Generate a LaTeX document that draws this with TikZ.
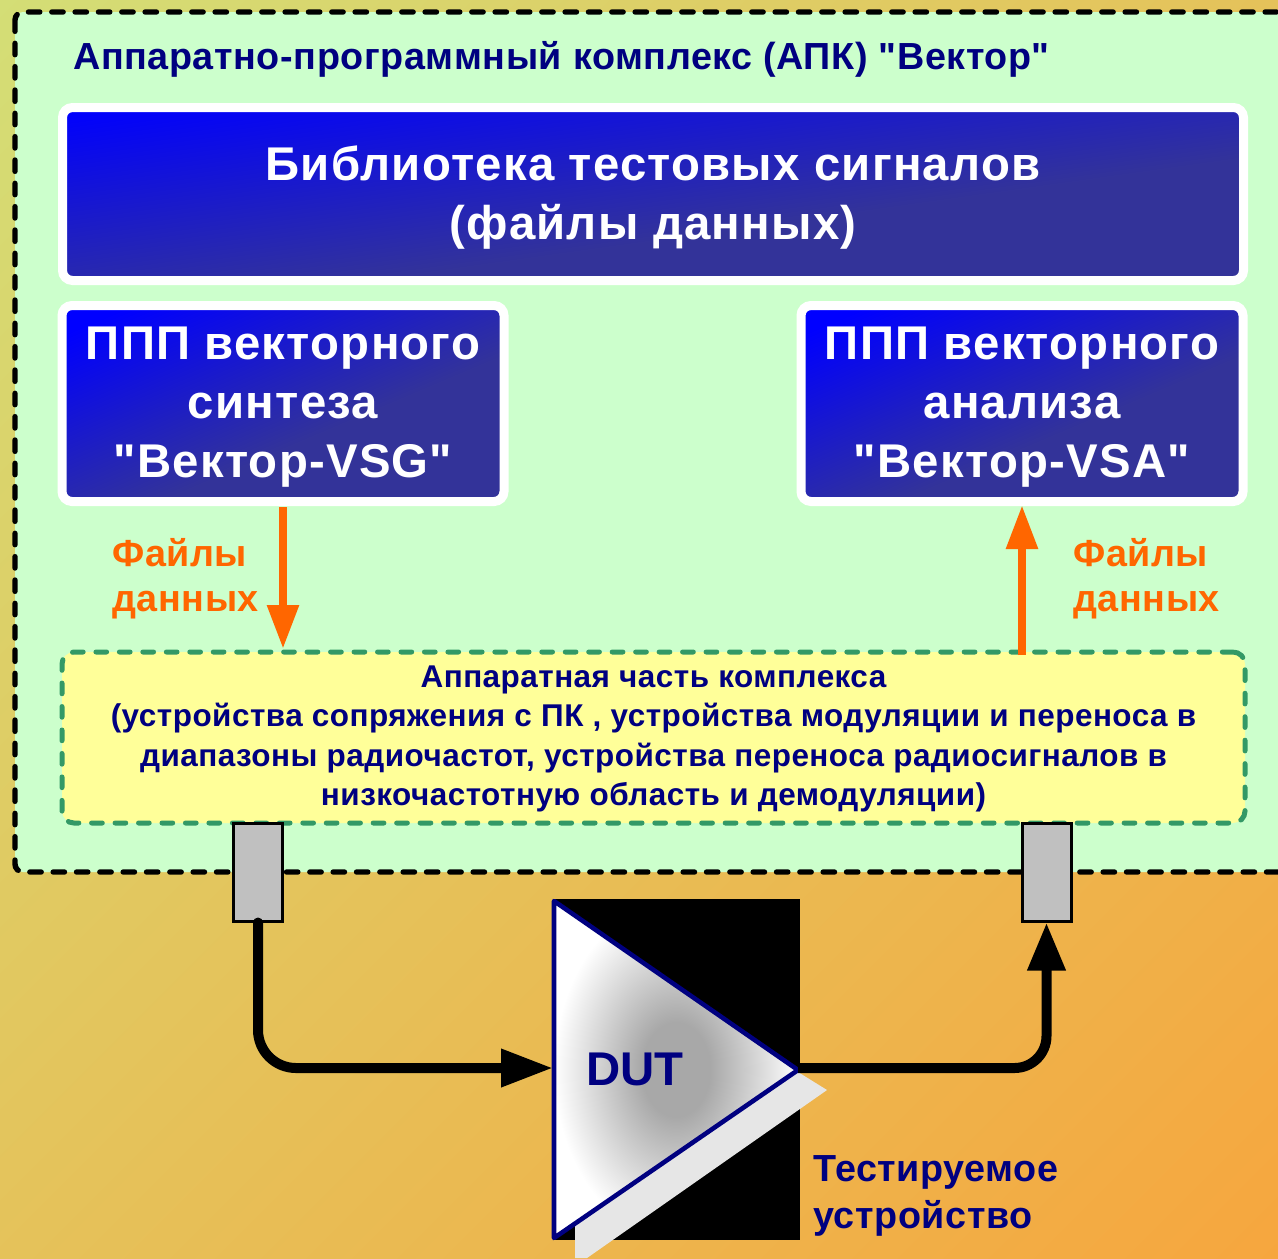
\documentclass[tikz,border=0pt]{standalone}
\usepackage{fontspec}
\setmainfont{Liberation Sans}[BoldFont={Liberation Sans Bold}]
\usetikzlibrary{arrows.meta}
\definecolor{navytxt}{RGB}{0,0,128}
\definecolor{panelgreen}{RGB}{204,255,204}
\definecolor{panelyellow}{RGB}{255,255,153}
\definecolor{dashgreen}{RGB}{51,153,102}
\definecolor{orangeline}{RGB}{255,102,0}
\definecolor{boxtop}{RGB}{0,0,255}
\definecolor{boxbot}{RGB}{51,51,153}
\definecolor{bgstart}{RGB}{208,228,124}
\definecolor{bgend}{RGB}{250,160,56}
\definecolor{portgray}{RGB}{192,192,192}
\definecolor{shadowgray}{RGB}{230,230,230}
\definecolor{dutcore}{RGB}{168,168,168}
\def\px{0.75pt}
\pgfdeclareradialshading{dutshade}{\pgfpointorigin}{color(0bp)=(dutcore); color(7bp)=(dutcore); color(25bp)=(white); color(50bp)=(white)}
\pgfdeclareverticalshading{boxshade}{100bp}{color(0bp)=(boxbot); color(42bp)=(boxbot); color(78bp)=(boxtop); color(100bp)=(boxtop)}
\newfontfamily\bigf[LetterSpace=2.6]{Liberation Sans Bold}
\newfontfamily\midf[LetterSpace=1.5]{Liberation Sans Bold}
\newfontfamily\smallf[LetterSpace=1.5]{Liberation Sans Bold}
\tikzset{
  bluebox/.style={draw=white,line width=9*\px,rounded corners=10*\px,shading=boxshade,shading angle=23,inner sep=0pt},
  bluetext/.style={text=white,align=center,inner sep=0pt,font=\bigf\fontsize{35.5}{44.2}\selectfont},
  filelabel/.style={text=orangeline,inner sep=0pt,anchor=base west,font=\midf\fontsize{28.3}{33.7}\selectfont},
  navylabel/.style={text=navytxt,inner sep=0pt,anchor=base west,font=\midf\fontsize{28.3}{33.7}\selectfont},
  port/.style={draw=black,line width=3*\px,fill=portgray,inner sep=0pt,minimum width=49*\px,minimum height=98*\px},
  cable/.style={draw=black,line width=10*\px},
  orangearrow/.style={draw=orangeline,line width=8.6*\px,-{Triangle[length=44*\px,width=30*\px]}},
}
\begin{document}
\begin{tikzpicture}[x=0.75pt,y=-0.75pt]
\useasboundingbox (0,0) rectangle (1278,1258);
\clip (0,0) rectangle (1278,1258);
\shade[left color=bgstart,right color=bgend,shading angle=45] (-461,-471) rectangle (1739,1729);
% main panel
\path[fill=panelgreen,draw=black,line width=5.4*\px,rounded corners=8*\px,line cap=round,dash pattern=on 8.5pt off 9pt] (15,12) rectangle (1300,872);
\node[navylabel] (title) at (73,69) {Аппаратно-программный комплекс (АПК) "Вектор"};
% blue boxes
\node[bluebox,shading angle=8,minimum width=1181*\px,minimum height=173*\px] (lib) at (653,194) {};
\node[bluetext] (libtext) at ([yshift=-3pt]lib.center) {Библиотека тестовых сигналов\\(файлы данных)};
\node[bluebox,minimum width=442*\px,minimum height=196*\px] (vsg) at (283,403.5) {};
\node[bluetext] (vsgtext) at ([yshift=-3pt]vsg.center) {ППП векторного\\синтеза\\"Вектор-VSG"};
\node[bluebox,minimum width=442*\px,minimum height=196*\px] (vsa) at (1022,403.5) {};
\node[bluetext] (vsatext) at ([yshift=-3pt]vsa.center) {ППП векторного\\анализа\\"Вектор-VSA"};
% hardware box
\node[draw=dashgreen,fill=panelyellow,line width=5*\px,rounded corners=12*\px,line cap=round,dash pattern=on 8pt off 9.6pt,
  minimum width=1183*\px,minimum height=171*\px,inner sep=0pt] (hw) at (653.5,737.5) {};
\node[text=navytxt,align=center,inner sep=0pt,font=\smallf\fontsize{23.6}{29.6}\selectfont] (hwtext) at ([yshift=-1pt]hw.center)
  {Аппаратная часть комплекса\\(устройства сопряжения с ПК , устройства модуляции и переноса в\\диапазоны радиочастот, устройства переноса радиосигналов в\\низкочастотную область и демодуляции)};
% orange
\coordinate (vsgdown) at (283,507);
\coordinate (hwtopL) at (283,649);
\coordinate (hwtopR) at (1022,655);
\coordinate (vsaup) at (1022,505);
\draw[orangearrow] (vsgdown) -- (hwtopL);
\draw[orangearrow] (hwtopR) -- (vsaup);
\node[filelabel] (flL1) at (112,566) {Файлы};
\node[filelabel] (flL2) at (112,611) {данных};
\node[filelabel] (flR1) at (1073,566) {Файлы};
\node[filelabel] (flR2) at (1073,611) {данных};
% ports
\node[port] (portL) at (258,872) {};
\node[port] (portR) at (1046.5,872) {};
% DUT
\fill[black] (554,899) rectangle (800,1240);
\fill[shadowgray] (798,1072) -- (827,1090) -- (587,1258) -- (575,1258) -- (575,1224) -- cycle;
\shade[shading=dutshade] (554,901) -- (554,1238) -- (798,1070) -- cycle;
\draw[navytxt,line width=4.6*\px,line join=round] (554,901) -- (554,1238) -- (798,1070) -- cycle;
\node[text=navytxt,inner sep=0pt,font=\bfseries\fontsize{35.5}{40}\selectfont] (dutlabel) at (635,1069) {DUT};
\coordinate (dutin) at (553,1068);
\coordinate (dutout) at (798,1068);
\draw[cable,rounded corners=38*\px,line cap=round,-{Triangle[length=52*\px,width=36*\px]}] (portL.south) |- (dutin);
\draw[cable,rounded corners=32*\px,-{Triangle[length=48*\px,width=36*\px]}] (dutout) -| (portR.south);
\node[navylabel] (t1) at (813,1181) {Тестируемое};
\node[navylabel] (t2) at (813,1228) {устройство};
\end{tikzpicture}
\end{document}
